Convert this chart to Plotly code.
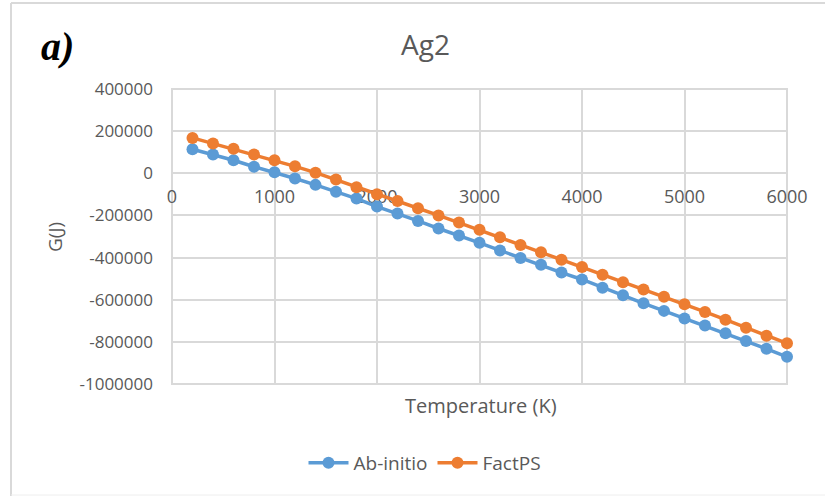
import plotly.graph_objects as go

temperature = [200, 400, 600, 800, 1000, 1200, 1400, 1600, 1800, 2000,
               2200, 2400, 2600, 2800, 3000, 3200, 3400, 3600, 3800, 4000,
               4200, 4400, 4600, 4800, 5000, 5200, 5400, 5600, 5800, 6000]

ab_initio = [114000, 89000, 62000, 31000, 5000, -25000, -55000, -88000, -120000, -158000,
             -191000, -226000, -262000, -295000, -330000, -366000, -402000, -434000, -471000, -504000,
             -543000, -579000, -617000, -653000, -689000, -722000, -759000, -796000, -833000, -871000]

factps = [168000, 141000, 116000, 89000, 62000, 33000, 3000, -30000, -66000, -100000,
          -132000, -166000, -200000, -234000, -268000, -304000, -340000, -375000, -410000, -445000,
          -481000, -517000, -551000, -586000, -622000, -658000, -695000, -733000, -771000, -807000]

x_ticks = [0, 1000, 2000, 3000, 4000, 5000, 6000]
y_ticks = [400000, 200000, 0, -200000, -400000, -600000, -800000, -1000000]

BLUE = "#5b9bd5"
ORANGE = "#ed7d31"
GRID = "#d9d9d9"
TXT = "#595959"
FONT = "Open Sans"

W, H = 825, 496
L, R, T, B = 172, 787, 89, 384

fig = go.Figure()
fig.add_trace(go.Scatter(x=temperature, y=ab_initio, name="Ab-initio", mode="lines+markers",
                         line=dict(color=BLUE, width=3.5), marker=dict(color=BLUE, size=12),
                         cliponaxis=False))
fig.add_trace(go.Scatter(x=temperature, y=factps, name="FactPS", mode="lines+markers",
                         line=dict(color=ORANGE, width=3.5), marker=dict(color=ORANGE, size=12),
                         cliponaxis=False))

y_min, y_max = -1000000, 400000
y0_frac = (0 - y_min) / (y_max - y_min)


def px_x(p):
    return (p - L) / (R - L)


def px_y(p):
    return (B - p) / (B - T)


fig.update_layout(
    width=W, height=H,
    margin=dict(l=L, r=W - R, t=T, b=H - B, pad=0),
    paper_bgcolor="white", plot_bgcolor="white",
    font=dict(family=FONT, color=TXT, size=17),
    showlegend=True,
    legend=dict(orientation="h", x=px_x(425), xanchor="center", y=px_y(463), yanchor="middle",
                font=dict(size=19, color=TXT), itemwidth=40, tracegroupgap=0),
    xaxis=dict(range=[0, 6000], tickvals=x_ticks, ticktext=[str(v) for v in x_ticks],
               showgrid=True, gridcolor=GRID, gridwidth=2, zeroline=False,
               showline=False, ticks="", anchor="free", position=y0_frac,
               ticklabelstandoff=11,
               layer="below traces", tickfont=dict(size=18, color=TXT)),
    yaxis=dict(range=[y_min, y_max], tickvals=y_ticks, ticktext=[str(v) for v in y_ticks],
               showgrid=True, gridcolor=GRID, gridwidth=2, zeroline=True, zerolinecolor=GRID,
               zerolinewidth=2, showline=False, ticks="", ticklabelstandoff=18,
               layer="below traces", tickfont=dict(size=17, color=TXT)),
)

annotations = [
    dict(text="Ag2", x=px_x(425), y=px_y(44), font=dict(size=28, color=TXT, family=FONT)),
    dict(text="<b><i>a)</i></b>", x=px_x(57), y=px_y(46),
         font=dict(size=40, color="black", family="Liberation Serif")),
    dict(text="G(J)", x=px_x(55), y=px_y(237), textangle=-90, font=dict(size=19, color=TXT, family=FONT)),
    dict(text="Temperature (K)", x=px_x(481), y=px_y(405), font=dict(size=20, color=TXT, family=FONT)),
]
for a in annotations:
    a.update(xref="paper", yref="paper", showarrow=False, xanchor="center", yanchor="middle")
fig.update_layout(annotations=annotations)

shapes = [
    dict(type="rect", x0=0, x1=1, y0=0, y1=1, line=dict(color=GRID, width=2), layer="below"),
    dict(type="line", x0=px_x(11), x1=px_x(825), y0=px_y(3), y1=px_y(3), line=dict(color="#d9d9d9", width=2)),
    dict(type="line", x0=px_x(11), x1=px_x(11), y0=px_y(3), y1=px_y(496), line=dict(color="#d9d9d9", width=2)),
    dict(type="line", x0=px_x(11), x1=px_x(825), y0=px_y(495), y1=px_y(495), line=dict(color="#eeeeee", width=1)),
]
for s in shapes:
    s.update(xref="paper", yref="paper")
fig.update_layout(shapes=shapes)

fig.write_html("out.html", config={"displayModeBar": False},
               post_script="document.body.style.margin='0';document.body.style.overflow='hidden';")
